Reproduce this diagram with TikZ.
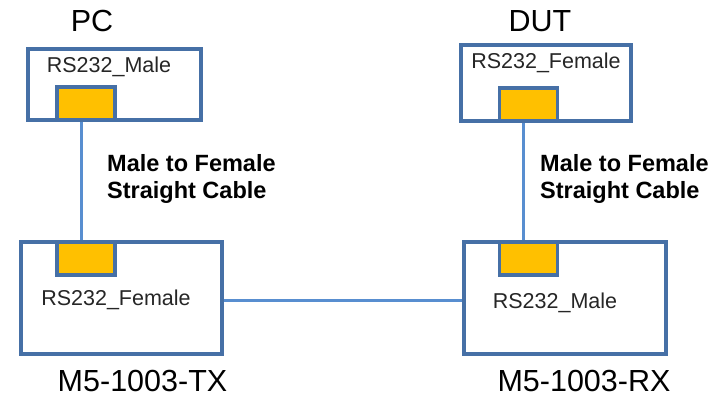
\documentclass[tikz,border=0pt]{standalone}
\usepackage{fontspec}
\setmainfont{Liberation Sans}
\definecolor{boxblue}{RGB}{70,112,166}
\definecolor{lineblue}{RGB}{88,142,208}
\definecolor{connyellow}{RGB}{255,192,0}
\definecolor{txtgray}{RGB}{38,38,38}
\begin{document}
\begin{tikzpicture}[x=1pt,y=-1pt,
  devbox/.style={draw=boxblue,line width=3.6pt,fill=white,rectangle,inner sep=0pt},
  conn/.style={draw=boxblue,line width=3.6pt,fill=connyellow,rectangle,inner sep=0pt,minimum width=58pt,minimum height=33pt},
  cable/.style={draw=lineblue,line width=3pt},
  portlbl/.style={font=\fontsize{21.5}{25}\selectfont,text=txtgray,inner sep=0pt},
  devlbl/.style={font=\fontsize{30.5}{36}\selectfont,text=black,inner sep=0pt},
  cablelbl/.style={font=\bfseries\fontsize{23.5}{27}\selectfont,align=left,anchor=west,inner sep=0pt}]
\useasboundingbox (0,0) rectangle (722,398);
% boxes
\node[devbox,minimum width=173pt,minimum height=71pt] (pc) at (114.5,84.5) {};
\node[devbox,minimum width=170pt,minimum height=76pt] (dut) at (546,83) {};
\node[devbox,minimum width=201pt,minimum height=112pt] (tx) at (121.5,298) {};
\node[devbox,minimum width=202pt,minimum height=112pt] (rx) at (565,298) {};
% connectors
\node[conn] (pcc) at (86,103.5) {};
\node[conn] (dutc) at (528.5,104.5) {};
\node[conn] (txc) at (86,258.5) {};
\node[conn] (rxc) at (528.5,258.5) {};
% cables
\draw[cable] ([xshift=-5pt]pcc.south) -- ([xshift=-5pt]txc.north);
\draw[cable] ([xshift=-5.5pt]dutc.south) -- ([xshift=-5.5pt]rxc.north);
\draw[cable] ([yshift=-2pt]tx.east) -- ([yshift=-2pt]rx.west);
% redraw connectors over cables
\node[conn] at (pcc) {};
\node[conn] at (dutc) {};
\node[conn] at (txc) {};
\node[conn] at (rxc) {};
% port labels
\node[portlbl] (pcl) at (109,67) {RS232\_Male};
\node[portlbl] (dutl) at (546,63) {RS232\_Female};
\node[portlbl] (txl) at (116,300) {RS232\_Female};
\node[portlbl] (rxl) at (555,303) {RS232\_Male};
% device labels
\node[devlbl,anchor=base] (pct) at (92,32) {PC};
\node[devlbl,anchor=base] (dutt) at (540,32) {DUT};
\node[devlbl,anchor=base] (txt) at (142.5,391) {M5-1003-TX};
\node[devlbl,anchor=base] (rxt) at (584,391) {M5-1003-RX};
% cable labels
\node[cablelbl] (c1) at (107,178.5) {Male to Female\\Straight Cable};
\node[cablelbl] (c2) at (540,178.5) {Male to Female\\Straight Cable};
\end{tikzpicture}
\end{document}
